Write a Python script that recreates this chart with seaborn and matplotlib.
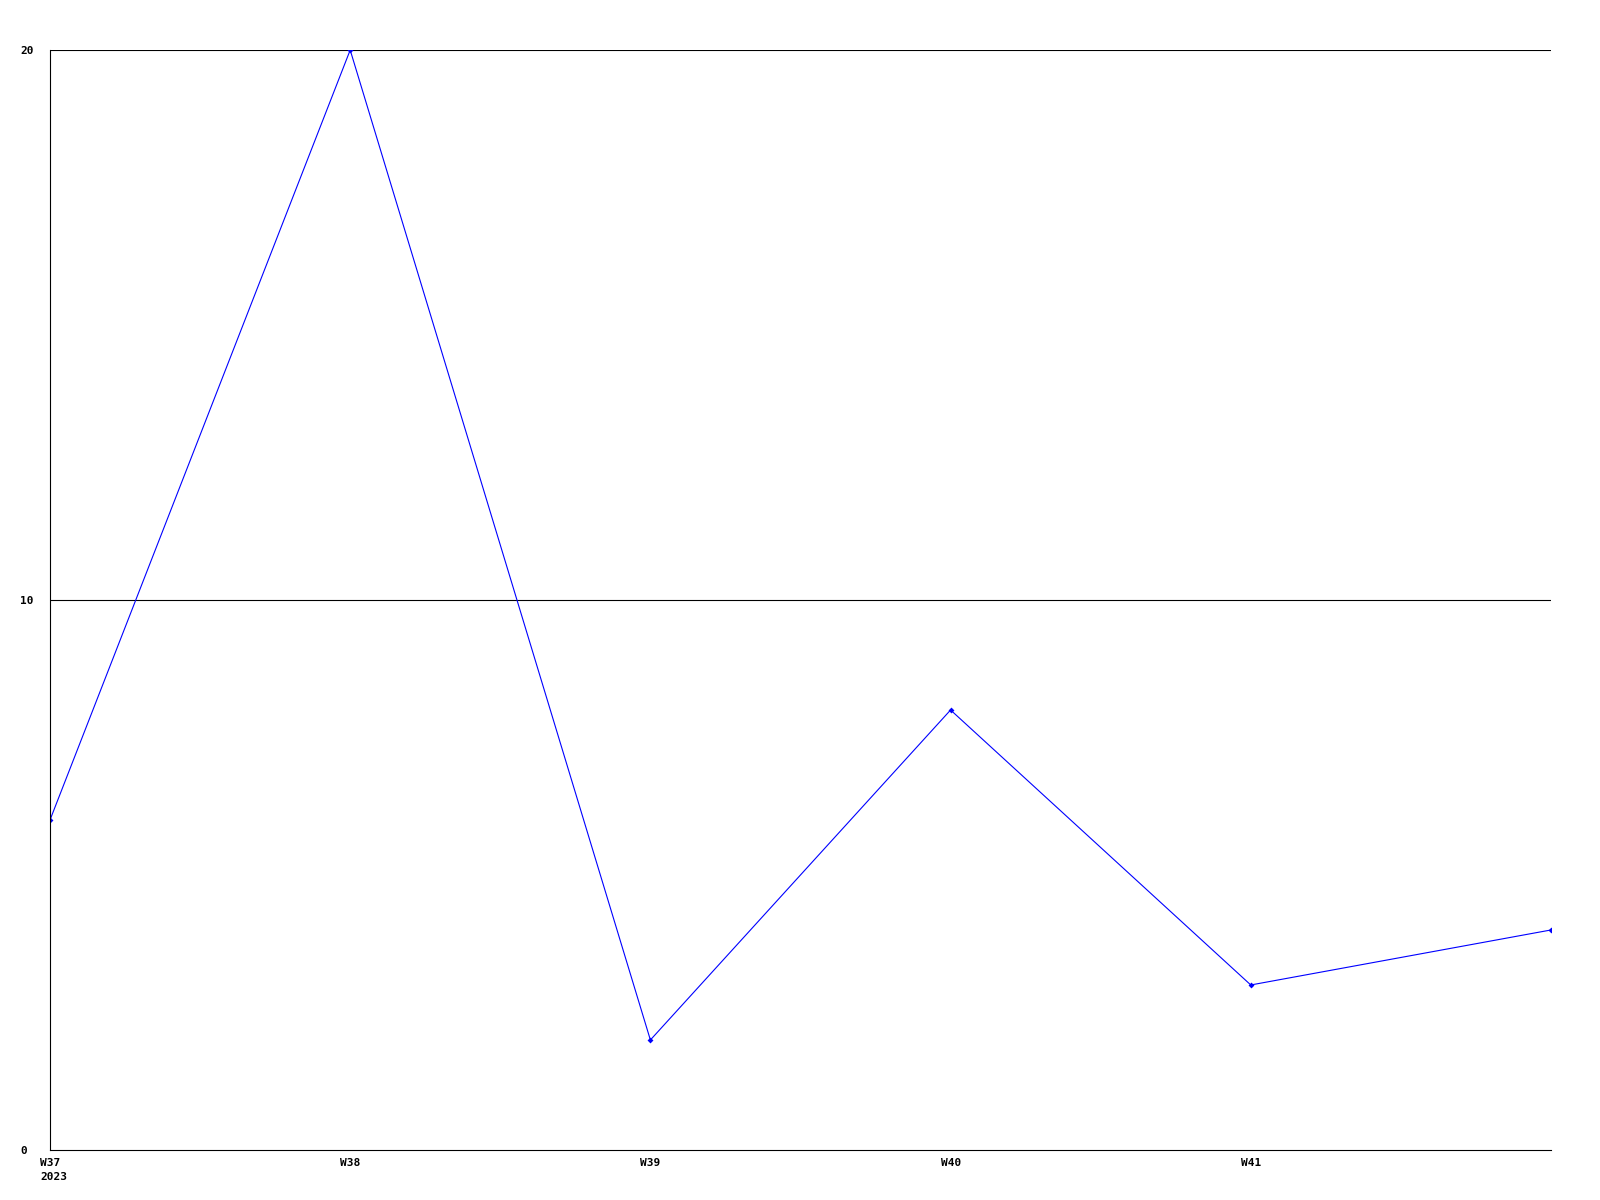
import matplotlib
matplotlib.use("Agg")
import matplotlib.pyplot as plt
import matplotlib.transforms as mtransforms
import pandas as pd
import seaborn as sns

sns.set_theme(style="white")
plt.rcParams["font.family"] = ["DejaVu Sans Mono"]

weeks = ["W37", "W38", "W39", "W40", "W41", "W42"]
counts = [6, 20, 2, 8, 3, 4]
tick_labels = ["W37\n2023", "W38", "W39", "W40", "W41"]
y_ticks = [0, 10, 20]

df = pd.DataFrame({"pos": range(len(weeks)), "week": weeks, "count": counts})

fig = plt.figure(figsize=(16, 12), dpi=100)
ax = fig.add_axes([0.03125, 0.0417, 0.9381, 0.9166])

sns.lineplot(data=df, x="pos", y="count", ax=ax, color="#0000ff",
             linewidth=0.8, marker="D", markersize=3, markeredgewidth=0)

ax.set_xlim(0, len(weeks) - 1)
ax.set_ylim(0, 20)
ax.set_yticks(y_ticks)
ax.set_yticklabels([str(v) for v in y_ticks], fontsize=8, fontweight="bold",
                   color="black")
ax.set_xticks(range(len(tick_labels)))
ax.set_xticklabels(tick_labels, fontsize=8, fontweight="bold", color="black",
                   ha="left", va="top", multialignment="left", linespacing=1.5)

ax.tick_params(axis="both", length=0)
ax.tick_params(axis="y", pad=21.5)
ax.tick_params(axis="x", pad=6)

# y labels are left-aligned in a column left of the axis
for lab in ax.get_yticklabels():
    lab.set_ha("left")

# shift x labels so the week text sits centred on its tick
shift = mtransforms.ScaledTranslation(-10 / 100, 0, fig.dpi_scale_trans)
for lab in ax.get_xticklabels():
    lab.set_transform(lab.get_transform() + shift)

ax.grid(False)
for v in y_ticks[1:]:
    ax.axhline(v, color="black", linewidth=0.8, zorder=0)

for side in ["top", "right"]:
    ax.spines[side].set_visible(False)
for side in ["left", "bottom"]:
    ax.spines[side].set_color("black")
    ax.spines[side].set_linewidth(0.8)

ax.set_xlabel("")
ax.set_ylabel("")

fig.savefig("out.png", dpi=100)
plt.close(fig)
